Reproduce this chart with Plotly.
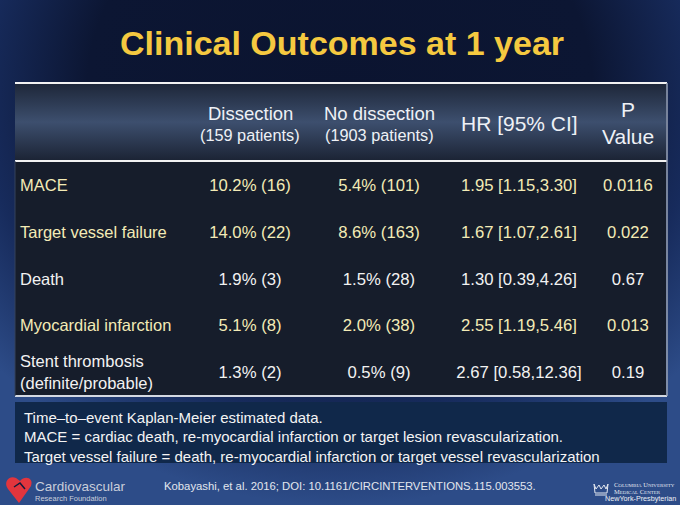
import plotly.graph_objects as go

# -----------------------------
# Table content
# -----------------------------
outcomes = ["MACE", "Target vessel failure", "Death", "Myocardial infarction",
            "Stent thrombosis<br>(definite/probable)"]
dissection = ["10.2% (16)", "14.0% (22)", "1.9% (3)", "5.1% (8)", "1.3% (2)"]
no_dissection = ["5.4% (101)", "8.6% (163)", "1.5% (28)", "2.0% (38)", "0.5% (9)"]
hazard_ratio = ["1.95 [1.15,3.30]", "1.67 [1.07,2.61]", "1.30 [0.39,4.26]",
                "2.55 [1.19,5.46]", "2.67 [0.58,12.36]"]
p_value = ["0.0116", "0.022", "0.67", "0.013", "0.19"]
highlight = [True, True, False, True, False]

col_titles = ["Dissection", "No dissection", "HR [95% CI]", "P<br>Value"]
col_subtitles = ["(159 patients)", "(1903 patients)", "", ""]

footnotes = [
    "Time\u2013to\u2013event Kaplan-Meier estimated data.",
    "MACE = cardiac death, re-myocardial infarction or target lesion revascularization.",
    "Target vessel failure = death, re-myocardial infarction or target vessel revascularization",
]
citation = "Kobayashi, et al. 2016; DOI: 10.1161/CIRCINTERVENTIONS.115.003553."
title = "Clinical Outcomes at 1 year"

# -----------------------------
# Layout constants (pixels)
# -----------------------------
W, H = 680, 505
TL, TR = 15, 666           # table left / right
T_TOP, T_HEAD, T_BOT = 83, 161, 396
col_x = [250, 379, 519, 628]
label_x = 20
row_y = [187 + i * 46.75 for i in range(len(outcomes))]

CREAM = "#f3ebb6"
WHITE = "#f2f2f2"
FONT = "Liberation Sans, Arial, sans-serif"
row_colors = [CREAM if h else WHITE for h in highlight]


def rect(x0, y0, x1, y1):
    return [x0, x1, x1, x0, x0], [y0, y0, y1, y1, y0]


fig = go.Figure()

# slide background
bx, by = rect(-120, -320, W + 120, H)
fig.add_trace(go.Scatter(
    x=bx, y=by, mode="lines", line=dict(width=0), fill="toself",
    fillgradient=dict(type="radial", colorscale=[
        [0, "#0b1430"], [0.55, "#0c1633"], [0.78, "#172b5c"], [1, "#2d4c88"]]),
    hoverinfo="skip", showlegend=False))

# table body
bx, by = rect(TL, T_HEAD, TR, T_BOT)
fig.add_trace(go.Scatter(x=bx, y=by, mode="lines", line=dict(width=0),
                         fill="toself", fillcolor="#161d2b",
                         hoverinfo="skip", showlegend=False))

# header band
bx, by = rect(TL, T_TOP, TR, T_HEAD)
fig.add_trace(go.Scatter(
    x=bx, y=by, mode="lines", line=dict(width=0), fill="toself",
    fillgradient=dict(type="vertical", colorscale=[
        [0, "#1b2334"], [0.5, "#3d4f6e"], [1, "#1d2638"]]),
    hoverinfo="skip", showlegend=False))

# footnote box
bx, by = rect(TL, 402, TR + 1, 463)
fig.add_trace(go.Scatter(x=bx, y=by, mode="lines", line=dict(width=0),
                         fill="toself", fillcolor="#10284a",
                         hoverinfo="skip", showlegend=False))

# row labels
fig.add_trace(go.Scatter(
    x=[label_x] * len(outcomes), y=row_y, mode="text", text=outcomes,
    textposition="middle right",
    textfont=dict(family=FONT, size=16.5, color=row_colors),
    hoverinfo="skip", showlegend=False))

# value columns
for cx, vals in zip(col_x, [dissection, no_dissection, hazard_ratio, p_value]):
    fig.add_trace(go.Scatter(
        x=[cx] * len(vals), y=row_y, mode="text", text=vals,
        textposition="middle center",
        textfont=dict(family=FONT, size=16.7, color=row_colors),
        hoverinfo="skip", showlegend=False))

ann = []
# title
ann.append(dict(x=342, y=43, text="<b>" + title + "</b>", showarrow=False,
                font=dict(family=FONT, size=34, color="#f5c940"),
                xanchor="center", yanchor="middle"))

# header
for cx, t, s in zip(col_x, col_titles, col_subtitles):
    if s:
        ann.append(dict(x=cx, y=113, text=t, showarrow=False,
                        font=dict(family=FONT, size=18.5, color="#eef1f6")))
        ann.append(dict(x=cx, y=135, text=s, showarrow=False,
                        font=dict(family=FONT, size=16.3, color="#eef1f6")))
    else:
        ann.append(dict(x=cx, y=123, text=t, showarrow=False,
                        font=dict(family=FONT, size=21, color="#eef1f6")))

# footnotes
for i, line in enumerate(footnotes):
    ann.append(dict(x=22, y=417 + i * 19.5, text=line, showarrow=False,
                    xanchor="left", yanchor="middle",
                    font=dict(family=FONT, size=15, color="#f4f4f4")))

ann.append(dict(x=350, y=486, text=citation, showarrow=False,
                font=dict(family=FONT, size=11.3, color="#e2e6ee")))

# logos (text parts)
ann.append(dict(x=33, y=486, text="Cardiovascular", showarrow=False, xanchor="left",
                font=dict(family=FONT, size=13.5, color="#c9ceda")))
ann.append(dict(x=33, y=498, text="Research Foundation", showarrow=False,
                xanchor="left", font=dict(family=FONT, size=7.5, color="#c9ceda")))
ann.append(dict(x=612, y=484, text="C<span style='font-size:5px'>OLUMBIA</span> U<span style='font-size:5px'>NIVERSITY</span>",
                showarrow=False, xanchor="left",
                font=dict(family="Liberation Serif, serif", size=6.5, color="#e4e8f0")))
ann.append(dict(x=612, y=491, text="M<span style='font-size:5px'>EDICAL</span> C<span style='font-size:5px'>ENTER</span>",
                showarrow=False, xanchor="left",
                font=dict(family="Liberation Serif, serif", size=6.5, color="#e4e8f0")))
ann.append(dict(x=603, y=498.5, text="NewYork-Presbyterian", showarrow=False,
                xanchor="left", font=dict(family=FONT, size=7.2, color="#eef1f6")))

shapes = [
    # table rules
    dict(type="line", x0=TL, x1=TR + 1, y0=T_TOP, y1=T_TOP,
         line=dict(color="#f2f2f2", width=2)),
    dict(type="line", x0=TL, x1=TR + 1, y0=T_HEAD, y1=T_HEAD,
         line=dict(color="#f2f2f2", width=2)),
    dict(type="line", x0=TL, x1=TR + 1, y0=T_BOT, y1=T_BOT,
         line=dict(color="#d4d9e2", width=2)),
    dict(type="line", x0=TR + 1, x1=TR + 1, y0=T_TOP, y1=T_BOT,
         line=dict(color="#9aa3b5", width=1.5)),
    dict(type="line", x0=TL, x1=TL, y0=T_HEAD, y1=T_BOT,
         line=dict(color="#34425c", width=1)),
    # CRF heart
    dict(type="path",
         path="M 19 503 L 8 489 C 3 482 9 475 16 478 L 20 481 "
              "C 25 475 34 478 31 486 Z",
         fillcolor="#e2353d", line=dict(width=0)),
    dict(type="path", path="M 14 487 L 20 483 L 25 489",
         line=dict(color="#0f1c3c", width=1.5)),
    # Columbia crown
    dict(type="path",
         path="M 594 484 L 596 489 L 599 485 L 601 489 L 604 485 L 606 489 "
              "L 608 484 L 607 493 L 595 493 Z",
         fillcolor="rgba(0,0,0,0)", line=dict(color="#e4e8f0", width=1)),
    dict(type="line", x0=595, x1=607, y0=495, y1=495,
         line=dict(color="#e4e8f0", width=1)),
]

fig.update_layout(
    width=W, height=H,
    margin=dict(l=0, r=0, t=0, b=0),
    paper_bgcolor="#0b1430", plot_bgcolor="#0b1430",
    xaxis=dict(range=[0, W], visible=False, fixedrange=True),
    yaxis=dict(range=[H, 0], visible=False, fixedrange=True),
    annotations=ann,
    shapes=shapes,
    showlegend=False,
)

fig.write_html("out.html", config={"displayModeBar": False},
               post_script="document.body.style.margin='0';"
                           "document.body.style.overflow='hidden';")
